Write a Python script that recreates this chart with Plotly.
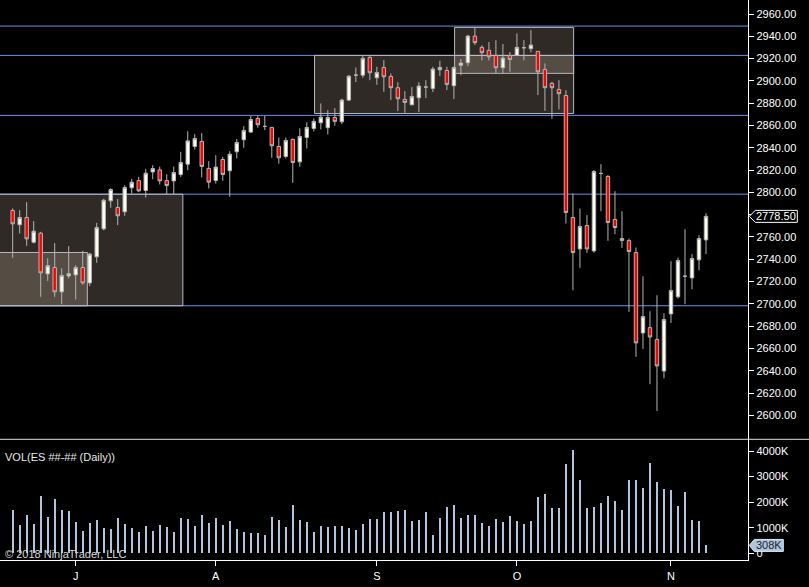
import plotly.graph_objects as go

# daily bars (ES, mid June -> early Nov)
opens = [2783.8, 2770.9, 2777.5, 2755.3, 2763.4, 2726.9, 2732.6, 2710.8, 2725.1, 2726.0,
         2732.6, 2718.8, 2742.2, 2767.3, 2792.4, 2786.5, 2782.6, 2804.1, 2810.6, 2801.7,
         2818.4, 2820.2, 2810.6, 2810.3, 2816.0, 2825.3, 2841.2, 2845.7, 2821.5, 2810.7,
         2829.5, 2819.4, 2836.4, 2847.2, 2854.1, 2866.3, 2859.2, 2858.3, 2841.2, 2832.2,
         2847.5, 2827.4, 2849.3, 2857.4, 2862.5, 2858.0, 2867.2, 2863.3, 2882.8, 2905.2,
         2905.2, 2921.1, 2902.8, 2912.1, 2904.0, 2893.9, 2883.4, 2878.6, 2884.9, 2894.5,
         2893.3, 2910.0, 2909.4, 2895.7, 2914.0, 2916.3, 2940.2, 2930.1, 2927.4, 2922.9,
         2911.8, 2922.6, 2922.9, 2929.8, 2928.9, 2926.5, 2910.3, 2897.8, 2892.4, 2887.0,
         2777.5, 2749.3, 2770.3, 2747.5, 2817.0, 2814.3, 2775.7, 2758.6, 2756.8, 2746.0,
         2673.9, 2678.7, 2668.0, 2639.8, 2691.0, 2706.3, 2724.8, 2723.3, 2739.5, 2757.4]
highs = [2785.6, 2784.1, 2791.3, 2774.2, 2764.6, 2741.0, 2754.5, 2732.0, 2751.8, 2734.7,
         2747.6, 2745.8, 2772.7, 2794.2, 2803.8, 2794.0, 2806.5, 2812.1, 2813.9, 2821.1,
         2824.4, 2823.2, 2816.3, 2823.2, 2836.4, 2854.9, 2852.3, 2853.2, 2828.0, 2833.4,
         2831.9, 2837.0, 2847.8, 2859.4, 2868.7, 2868.7, 2868.7, 2858.3, 2849.3, 2849.3,
         2848.4, 2857.4, 2862.8, 2866.3, 2879.8, 2873.8, 2875.6, 2884.0, 2905.2, 2912.1,
         2922.3, 2922.3, 2912.7, 2918.7, 2906.7, 2898.9, 2890.9, 2894.5, 2898.9, 2900.7,
         2912.7, 2918.1, 2912.7, 2913.0, 2919.6, 2941.4, 2948.0, 2931.9, 2934.9, 2936.6,
         2933.1, 2925.9, 2942.6, 2936.6, 2945.6, 2926.5, 2915.7, 2899.2, 2900.7, 2891.8,
         2799.0, 2785.5, 2779.6, 2820.0, 2825.3, 2815.5, 2801.1, 2783.1, 2758.6, 2750.5,
         2724.8, 2693.4, 2707.7, 2691.6, 2738.3, 2741.6, 2767.0, 2744.6, 2761.6, 2781.3]
lows = [2741.3, 2763.1, 2752.1, 2754.2, 2706.3, 2720.6, 2706.3, 2699.7, 2722.7, 2703.9,
        2717.1, 2715.9, 2736.8, 2766.0, 2786.2, 2770.6, 2779.0, 2799.0, 2800.2, 2795.4,
        2811.8, 2807.1, 2798.4, 2798.4, 2813.9, 2819.9, 2838.5, 2813.4, 2803.5, 2808.0,
        2810.4, 2796.0, 2830.4, 2840.0, 2853.2, 2858.0, 2855.9, 2831.0, 2825.7, 2830.4,
        2808.6, 2823.0, 2839.4, 2854.7, 2856.5, 2852.0, 2859.8, 2861.3, 2881.9, 2899.0,
        2902.8, 2900.7, 2896.6, 2890.3, 2882.8, 2872.9, 2871.4, 2878.0, 2872.0, 2884.6,
        2890.0, 2904.3, 2891.8, 2883.7, 2905.2, 2913.3, 2932.2, 2918.4, 2918.4, 2906.7,
        2906.7, 2908.2, 2922.3, 2918.4, 2925.6, 2887.3, 2873.2, 2866.0, 2874.4, 2772.1,
        2712.2, 2732.3, 2745.8, 2745.8, 2783.1, 2756.5, 2762.5, 2750.2, 2692.8, 2652.4,
        2659.6, 2627.9, 2603.9, 2633.2, 2682.9, 2704.8, 2699.7, 2713.1, 2730.2, 2744.6]
closes = [2771.8, 2777.5, 2758.3, 2765.2, 2727.8, 2734.4, 2710.8, 2725.4, 2727.2, 2732.6,
          2718.8, 2744.6, 2768.5, 2793.0, 2802.6, 2779.0, 2804.4, 2809.1, 2801.4, 2817.2,
          2821.4, 2810.3, 2806.2, 2817.8, 2826.8, 2846.2, 2848.4, 2823.3, 2809.2, 2822.7,
          2816.1, 2834.3, 2844.8, 2855.6, 2865.4, 2860.7, 2859.2, 2841.8, 2831.0, 2846.6,
          2826.8, 2850.2, 2858.3, 2863.7, 2867.5, 2867.2, 2863.7, 2882.8, 2904.3, 2905.2,
          2920.2, 2907.3, 2907.6, 2903.7, 2893.9, 2884.0, 2880.7, 2886.1, 2895.4, 2894.5,
          2910.6, 2912.1, 2896.9, 2912.1, 2916.0, 2940.2, 2934.3, 2925.3, 2921.7, 2911.8,
          2920.5, 2919.3, 2930.1, 2929.8, 2932.2, 2908.2, 2893.9, 2893.9, 2888.5, 2782.0,
          2746.0, 2769.4, 2749.3, 2818.8, 2817.0, 2773.0, 2768.5, 2756.8, 2746.9, 2665.0,
          2688.6, 2670.3, 2644.3, 2685.9, 2711.9, 2738.9, 2724.8, 2740.7, 2758.6, 2778.5]
# volume in thousands
volume = [1694, 1107, 1498, 1147, 2241, 1420, 2124, 1694, 1655, 1225,
          873, 1186, 1303, 990, 951, 1381, 1147, 990, 834, 1068,
          873, 1107, 1029, 834, 1381, 1342, 1068, 1498, 1186, 1381,
          1107, 1264, 951, 834, 795, 769, 717, 1420, 1303, 1029,
          1889, 1303, 1225, 834, 1068, 1029, 1068, 1068, 990, 912,
          1147, 1342, 1342, 1616, 1616, 1655, 1694, 1264, 1303, 1616,
          717, 1381, 1811, 1889, 1381, 1498, 1498, 1186, 1068, 1342,
          1225, 1459, 1264, 1147, 1264, 2202, 2319, 1772, 1772, 3492,
          4039, 2866, 1772, 1811, 1967, 2241, 2046, 1694, 2866, 2866,
          2554, 3531, 2788, 2515, 2476, 1850, 2397, 1303, 1264, 308]
bars = list(range(len(closes)))

month_pos = [9, 29, 52, 72, 94]
month_labels = ["J", "A", "S", "O", "N"]

price_ticks = list(range(2600, 2961, 20))
vol_ticks = [0, 1000, 2000, 3000, 4000]
vol_labels = ["0", "1000K", "2000K", "3000K", "4000K"]

# drawn horizontal lines and highlighted regions
hlines = [2949.2, 2922.9, 2869.1, 2798.4, 2698.3]
regions = [(-3, 24.3, 2698.3, 2798.4),
           (-3, 10.66, 2698.3, 2746.1),
           (43.1, 80.1, 2870.8, 2922.9),
           (63.1, 80.1, 2906.8, 2948.0)]

last_price = closes[-1]
last_vol = volume[-1]

W, H = 809, 587
AX = 748.3 / W          # right edge of the panes (price axis line)
SEP = 1 - 439.3 / H     # price / volume divider
BOT = 1 - 560.3 / H     # bottom of volume pane
FONT = "Liberation Sans, Arial, sans-serif"

fig = go.Figure()
fig.add_trace(go.Candlestick(
    x=bars, open=opens, high=highs, low=lows, close=closes,
    increasing=dict(fillcolor="#fffff0", line=dict(color="#b4b4b4", width=1)),
    decreasing=dict(fillcolor="#ff0000", line=dict(color="#b4b4b4", width=1)),
    whiskerwidth=0, showlegend=False, xaxis="x", yaxis="y",
))
fig.add_trace(go.Bar(
    x=bars, y=volume, width=0.3, marker=dict(color="#b0c4de", line=dict(width=0)),
    showlegend=False, xaxis="x", yaxis="y2",
))

shapes = []
for x0, x1, y0, y1 in regions:
    shapes.append(dict(type="rect", xref="x", yref="y", x0=x0, x1=x1, y0=y0, y1=y1,
                       fillcolor="rgba(250,225,200,0.19)", line=dict(color="#b8b8c0", width=1),
                       layer="below"))
for lv in hlines:
    shapes.append(dict(type="line", xref="paper", yref="y", x0=0, x1=AX, y0=lv, y1=lv,
                       line=dict(color="#6495ed", width=1), layer="below"))
# pane divider
shapes.append(dict(type="line", xref="paper", yref="paper", x0=0, x1=1, y0=SEP, y1=SEP,
                   line=dict(color="#e0e0e0", width=1)))
# last price / last volume markers on the axes
shapes.append(dict(type="path", xref="paper", yref="y", xsizemode="pixel", ysizemode="pixel",
                   xanchor=AX, yanchor=last_price,
                   path="M 1,0 L 7,6 L 49,6 L 49,-6 L 7,-6 Z",
                   fillcolor="black", line=dict(color="white", width=1)))
shapes.append(dict(type="path", xref="paper", yref="y2", xsizemode="pixel", ysizemode="pixel",
                   xanchor=AX, yanchor=last_vol,
                   path="M 1,0 L 6,6 L 35,6 L 35,-6 L 6,-6 Z",
                   fillcolor="#b0c4de", line=dict(color="#dde6f0", width=1)))

annotations = [
    dict(text=f"{last_price:.2f}", xref="paper", yref="y", x=(748.3 + 28) / W, y=last_price,
         xanchor="center", yanchor="middle", showarrow=False,
         font=dict(color="white", size=11, family=FONT)),
    dict(text=f"{last_vol}K", xref="paper", yref="y2", x=(748.3 + 21) / W, y=last_vol,
         xanchor="center", yanchor="middle", showarrow=False,
         font=dict(color="#1a2230", size=11, family=FONT)),
    dict(text="VOL(ES ##-## (Daily))", xref="paper", yref="paper", x=3 / W, y=1 - 457 / H,
         xanchor="left", yanchor="middle", showarrow=False,
         font=dict(color="#e6e6e6", size=11, family=FONT)),
    dict(text="© 2018 NinjaTrader, LLC", xref="paper", yref="paper", x=3 / W, y=1 - 554 / H,
         xanchor="left", yanchor="middle", showarrow=False,
         font=dict(color="#d8d8d8", size=11, family=FONT)),
]

fig.update_layout(
    width=W, height=H,
    paper_bgcolor="black", plot_bgcolor="black",
    margin=dict(l=0, r=0, t=0, b=0),
    font=dict(family=FONT, size=11, color="white"),
    showlegend=False, hovermode="closest",
    bargap=0,
    xaxis=dict(domain=[0, AX], range=[-1.81, 105.04], anchor="y2",
               tickvals=month_pos, ticktext=month_labels,
               ticks="outside", ticklen=5, tickcolor="white",
               showline=True, linecolor="white", linewidth=1,
               showgrid=False, zeroline=False, rangeslider=dict(visible=False),
               tickfont=dict(color="white", size=11), automargin=False),
    yaxis=dict(domain=[SEP, 1], range=[2578.5, 2972.6], side="right", anchor="x",
               tickvals=price_ticks, tickformat=".2f",
               ticks="outside", ticklen=5, tickcolor="white",
               showline=True, linecolor="white", linewidth=1,
               showgrid=False, zeroline=False,
               tickfont=dict(color="white", size=11), automargin=False),
    yaxis2=dict(domain=[BOT, SEP], range=[-274, 4458], side="right", anchor="x",
                tickvals=vol_ticks, ticktext=vol_labels,
                ticks="outside", ticklen=5, tickcolor="white",
                showline=True, linecolor="white", linewidth=1,
                showgrid=False, zeroline=False,
                tickfont=dict(color="white", size=11), automargin=False),
    shapes=shapes,
    annotations=annotations,
)

# page body margin would push the chart off by 8px
fig.write_html("out.html", config={"displayModeBar": False},
               post_script="document.body.style.margin='0';document.body.style.background='black';")
